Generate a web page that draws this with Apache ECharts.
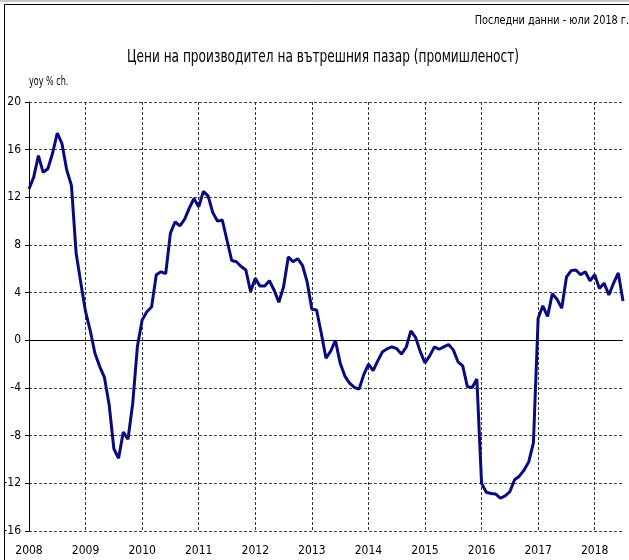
<!DOCTYPE html>
<html>
<head>
<meta charset="utf-8">
<script src="https://cdn.jsdelivr.net/npm/echarts@6/dist/echarts.min.js"></script>
<style>
  html, body { margin: 0; padding: 0; background: #fff; }
  #chart { width: 629px; height: 560px; }
</style>
</head>
<body>
<div id="chart"></div>
<script>
const years = ["2008", "2009", "2010", "2011", "2012", "2013", "2014", "2015", "2016", "2017", "2018"];
const yTicks = [-16, -12, -8, -4, 0, 4, 8, 12, 16, 20];

// yoy % ch., monthly, Jan 2008 - Jul 2018
const ppi2008 = [12.7, 13.7, 15.5, 14.1, 14.4, 15.7, 17.4, 16.5, 14.3, 13.0, 7.3, 4.8];
const ppi2009 = [2.4, 0.8, -1.1, -2.2, -3.1, -5.4, -9.1, -9.9, -7.7, -8.3, -5.3, -0.5];
const ppi2010 = [1.7, 2.4, 2.8, 5.5, 5.75, 5.6, 9.0, 9.95, 9.6, 10.15, 11.1, 11.9];
const ppi2011 = [11.2, 12.5, 12.1, 10.7, 10.0, 10.1, 8.4, 6.7, 6.6, 6.2, 5.9, 4.1];
const ppi2012 = [5.2, 4.55, 4.55, 5.0, 4.2, 3.2, 4.5, 7.0, 6.6, 6.85, 6.3, 4.9];
const ppi2013 = [2.6, 2.55, 0.6, -1.5, -0.9, 0.0, -1.9, -3.0, -3.6, -3.95, -4.1, -2.9];
const ppi2014 = [-2.0, -2.55, -1.7, -0.95, -0.7, -0.55, -0.7, -1.15, -0.6, 0.8, 0.25, -0.95];
const ppi2015 = [-1.9, -1.3, -0.55, -0.75, -0.55, -0.35, -0.8, -1.8, -2.15, -3.9, -3.95, -3.25];
const ppi2016 = [-12.0, -12.75, -12.85, -12.9, -13.25, -13.05, -12.7, -11.7, -11.4, -10.9, -10.2, -8.6];
const ppi2017 = [1.85, 2.9, 2.0, 3.9, 3.45, 2.7, 5.3, 5.85, 5.9, 5.5, 5.75, 5.0];
const ppi2018 = [5.5, 4.35, 4.8, 3.8, 4.8, 5.65, 3.3];

const ppi = [].concat(ppi2008, ppi2009, ppi2010, ppi2011, ppi2012, ppi2013,
  ppi2014, ppi2015, ppi2016, ppi2017, ppi2018);
const months = ppi.map((v, i) => years[Math.floor(i / 12)] + "-" + String(i % 12 + 1).padStart(2, "0"));

const font = "'DejaVu Sans Condensed', 'DejaVu Sans', sans-serif";
const isJan = (idx) => idx % 12 === 0;

const myChart = echarts.init(document.getElementById("chart"));
const option = {
  animation: false,
  backgroundColor: "#fff",
  textStyle: { fontFamily: font },
  graphic: [
    { type: "line", shape: { x1: 0, y1: 1, x2: 629, y2: 1 }, style: { stroke: "#c8c8c8", lineWidth: 2 } },
    { type: "polyline", shape: { points: [[4.5, 560], [4.5, 4.5], [629, 4.5]] }, style: { stroke: "#000", lineWidth: 1, fill: null } },
    {
      // condensed like the original's narrow font
      type: "text",
      x: 127,
      y: 58,
      scaleX: 0.795,
      style: {
        text: "Цени на производител на вътрешния пазар (промишленост)",
        fontFamily: font, fontSize: 17, fill: "#000",
        textAlign: "left", textVerticalAlign: "middle",
      },
    },
    {
      type: "text",
      x: 629,
      y: 21,
      scaleX: 0.83,
      style: {
        text: "Последни данни - юли 2018 г.",
        fontFamily: font, fontSize: 13, fill: "#000",
        textAlign: "right", textVerticalAlign: "middle",
      },
    },
    {
      type: "text",
      x: 29,
      y: 82,
      scaleX: 0.78,
      style: {
        text: "yoy % ch.",
        fontFamily: font, fontSize: 11.5, fill: "#000",
        textAlign: "left", textVerticalAlign: "middle",
      },
    },
  ],
  grid: { left: 29, right: 6, top: 102, bottom: 29, containLabel: false },
  xAxis: {
    type: "category",
    data: months,
    boundaryGap: false,
    axisLine: { show: false, onZero: false },
    axisTick: { show: false },
    axisLabel: {
      interval: (idx) => isJan(idx),
      formatter: (v) => v.slice(0, 4),
      fontFamily: font,
      fontSize: 12,
      color: "#000",
      margin: 14,
    },
    splitLine: {
      show: true,
      interval: (idx) => isJan(idx) && idx > 0,
      lineStyle: { color: "#333", type: [3, 2], width: 1 },
    },
  },
  yAxis: {
    type: "value",
    min: yTicks[0],
    max: yTicks[yTicks.length - 1],
    interval: 4,
    axisLine: { show: true, lineStyle: { color: "#000", width: 1 } },
    axisTick: { show: true, inside: false, length: 4, lineStyle: { color: "#000" } },
    axisLabel: { fontFamily: font, fontSize: 12, color: "#000", margin: 8 },
    splitLine: { show: true, lineStyle: { color: "#444", type: [3, 2], width: 1 } },
  },
  series: [
    {
      name: "ppi",
      type: "line",
      data: ppi,
      symbol: "none",
      smooth: false,
      lineStyle: { color: "#0a0a80", width: 3 },
      markLine: {
        silent: true,
        symbol: "none",
        label: { show: false },
        lineStyle: { color: "#000", type: "solid", width: 1 },
        data: [{ yAxis: 0 }],
        z: 1,
      },
    },
  ],
};
myChart.setOption(option);
</script>
</body>
</html>
